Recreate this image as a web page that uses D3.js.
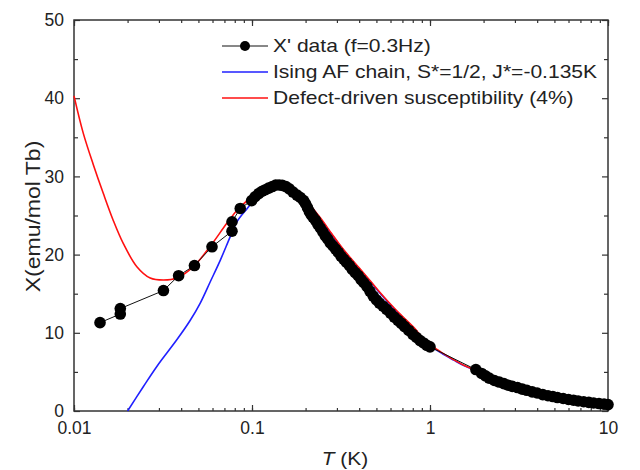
<!DOCTYPE html>
<html>
<head>
<meta charset="utf-8">
<script src="https://cdn.jsdelivr.net/npm/d3@7"></script>
<style>
  body { margin: 0; background: #fff; }
  text { font-family: "Liberation Sans", Arial, sans-serif; fill: #222; }
</style>
</head>
<body>
<div id="chart"></div>
<script>
// measured data, chi' at f = 0.3 Hz
var dataT = [0.0140, 0.0182, 0.0182, 0.0318, 0.0387, 0.0475, 0.0596, 0.0772, 0.0772, 0.0859,
             0.0995, 0.104, 0.109, 0.114, 0.119, 0.124, 0.130, 0.136, 0.142, 0.148,
             0.155, 0.162, 0.170, 0.179, 0.187, 0.195,
             0.200, 0.205, 0.210, 0.215, 0.220, 0.227, 0.234, 0.242, 0.250, 0.258,
             0.266, 0.275, 0.285, 0.295, 0.305, 0.316, 0.328, 0.340, 0.353, 0.366,
             0.380, 0.395, 0.410, 0.425, 0.443, 0.46, 0.48, 0.50, 0.52, 0.545,
             0.57, 0.60, 0.63, 0.66, 0.69, 0.72, 0.76, 0.80, 0.84, 0.88,
             0.92, 0.96, 1.0,
             1.81, 1.95, 2.05, 2.15, 2.3, 2.45, 2.6, 2.75, 2.9, 3.1,
             3.3, 3.5, 3.75, 4.0, 4.3, 4.6, 4.9, 5.2, 5.6, 6.0,
             6.4, 6.8, 7.3, 7.8, 8.3, 8.9, 9.5, 10.0];
var dataChi = [11.3, 12.4, 13.1, 15.4, 17.3, 18.6, 21.0, 23.0, 24.2, 25.9,
               26.9, 27.4, 27.8, 28.1, 28.3, 28.5, 28.7, 28.9, 28.9, 28.85,
               28.7, 28.4, 28.0, 27.6, 27.3, 26.9,
               26.5, 26.0, 25.5, 25.1, 24.8, 24.4, 23.9, 23.4, 22.9, 22.4,
               22.0, 21.5, 21.1, 20.7, 20.3, 19.8, 19.4, 19.0, 18.6, 18.1,
               17.7, 17.3, 16.8, 16.4, 15.9, 15.3, 14.7, 14.2, 13.8, 13.4,
               13.0, 12.5, 12.0, 11.6, 11.2, 10.8, 10.3, 9.8, 9.4, 9.0,
               8.7, 8.4, 8.2,
               5.3, 4.8, 4.5, 4.2, 3.9, 3.7, 3.5, 3.3, 3.15, 3.0,
               2.8, 2.65, 2.45, 2.3, 2.1, 1.95, 1.85, 1.72, 1.6, 1.47,
               1.38, 1.28, 1.18, 1.1, 1.02, 0.95, 0.88, 0.82];

// Ising AF chain curve
var isingT = [0.020, 0.0245, 0.0292, 0.0378, 0.045, 0.0512, 0.0582, 0.0664, 0.0755, 0.0823,
              0.094, 0.103, 0.115, 0.128, 0.14, 0.155, 0.17, 0.19, 0.21, 0.242,
              0.28, 0.32, 0.36, 0.40, 0.464, 0.527, 0.627, 0.70, 0.81, 0.90,
              1.0, 1.16, 1.36, 1.55, 1.75];
var isingChi = [0, 3.1, 5.7, 9.1, 11.6, 13.8, 16.5, 19.3, 22.3, 24.2,
                25.9, 27.0, 28.1, 28.7, 28.95, 28.8, 28.3, 27.5, 26.4, 24.6,
                22.6, 20.8, 19.4, 18.2, 16.5, 15.0, 13.1, 12.0, 10.6, 9.4,
                8.4, 7.4, 6.5, 5.8, 5.3];

// defect-driven susceptibility curve
var defectT = [0.01, 0.01128, 0.01284, 0.01462, 0.0166, 0.01894, 0.02255, 0.0268, 0.0318, 0.0378,
               0.047, 0.058, 0.0722, 0.084, 0.094, 0.102, 0.115, 0.128, 0.14, 0.155,
               0.17, 0.19, 0.21, 0.242, 0.28, 0.32, 0.36, 0.40, 0.464, 0.527,
               0.627, 0.70, 0.81, 0.90, 1.0, 1.16, 1.36, 1.55, 1.75];
var defectChi = [40.3, 35.5, 31.5, 27.8, 24.4, 21.4, 18.45, 17.0, 16.75, 17.0,
                 18.5, 21.0, 24.0, 25.9, 26.9, 27.8, 28.4, 28.8, 29.0, 28.85,
                 28.35, 27.55, 26.45, 24.7, 22.7, 20.9, 19.5, 18.3, 16.6, 15.1,
                 13.2, 12.1, 10.7, 9.5, 8.5, 7.5, 6.55, 5.85, 5.35];

var xTickLabels = ["0.01", "0.1", "1", "10"];
var yTickLabels = [0, 10, 20, 30, 40, 50];
var legendLabels = ["X' data (f=0.3Hz)", "Ising AF chain, S*=1/2, J*=-0.135K", "Defect-driven susceptibility (4%)"];

var margin = {top: 20, right: 32, bottom: 59, left: 74},
    width = 640 - margin.left - margin.right,
    height = 470 - margin.top - margin.bottom;

var svg = d3.select("#chart").append("svg")
    .attr("width", 640)
    .attr("height", 470)
  .append("g")
    .attr("transform", "translate(" + margin.left + "," + margin.top + ")");

var x = d3.scaleLog().domain([0.01, 10]).range([0, width]);
var y = d3.scaleLinear().domain([0, 50]).range([height, 0]);

var pts = function(ts, vs) { return ts.map(function(t, i) { return [t, vs[i]]; }); };
var line = d3.line()
    .x(function(d) { return x(d[0]); })
    .y(function(d) { return y(d[1]); });
var smooth = d3.line()
    .x(function(d) { return x(d[0]); })
    .y(function(d) { return y(d[1]); })
    .curve(d3.curveCatmullRom.alpha(0.5));

// axes: ticks point inward on all four sides
var minorX = x.ticks();
var majorX = xTickLabels.map(Number);
var axisColor = "#333";

function styleAxis(g) {
  g.select(".domain").remove();
  g.selectAll("line").attr("stroke", axisColor).attr("stroke-width", 1.2);
  g.selectAll("text").style("font-size", "17.5px");
}

svg.append("g")
    .attr("transform", "translate(0," + height + ")")
    .call(d3.axisBottom(x).tickValues(minorX).tickSize(-3).tickFormat(""))
    .call(styleAxis);
svg.append("g")
    .attr("transform", "translate(0," + height + ")")
    .call(d3.axisBottom(x).tickValues(majorX).tickSize(-6).tickPadding(11)
      .tickFormat(function(d, i) { return xTickLabels[i]; }))
    .call(styleAxis);
svg.append("g")
    .call(d3.axisTop(x).tickValues(minorX).tickSize(-3).tickFormat(""))
    .call(styleAxis);
svg.append("g")
    .call(d3.axisTop(x).tickValues(majorX).tickSize(-6).tickFormat(""))
    .call(styleAxis);

svg.append("g")
    .call(d3.axisLeft(y).tickValues(d3.range(5, 50, 10)).tickSize(-4).tickFormat(""))
    .call(styleAxis);
svg.append("g")
    .call(d3.axisLeft(y).tickValues(yTickLabels).tickSize(-6).tickPadding(10))
    .call(styleAxis);
svg.append("g")
    .attr("transform", "translate(" + width + ",0)")
    .call(d3.axisRight(y).tickValues(d3.range(5, 50, 10)).tickSize(-4).tickFormat(""))
    .call(styleAxis);
svg.append("g")
    .attr("transform", "translate(" + width + ",0)")
    .call(d3.axisRight(y).tickValues(yTickLabels).tickSize(-6).tickFormat(""))
    .call(styleAxis);

svg.append("rect")
    .attr("width", width)
    .attr("height", height)
    .attr("fill", "none")
    .attr("stroke", axisColor)
    .attr("stroke-width", 1.5);

// axis titles
var xt = svg.append("text")
    .attr("transform", "translate(" + (width / 2 + 4) + "," + (height + 54) + ") scale(1.1,1)")
    .attr("text-anchor", "middle")
    .style("font-size", "19px");
xt.append("tspan").style("font-style", "italic").text("T");
xt.append("tspan").text(" (K)");

svg.append("text")
    .attr("transform", "translate(-34," + (height / 2 + 1) + ") rotate(-90) scale(1.18,1)")
    .attr("text-anchor", "middle")
    .style("font-size", "19.5px")
    .text("X(emu/mol Tb)");

// curves
svg.append("path")
    .datum(pts(isingT, isingChi))
    .attr("fill", "none")
    .attr("stroke", "#2020ff")
    .attr("stroke-width", 1.6)
    .attr("d", smooth);

svg.append("path")
    .datum(pts(defectT, defectChi))
    .attr("fill", "none")
    .attr("stroke", "#ff1010")
    .attr("stroke-width", 1.6)
    .attr("d", smooth);

// data
var data = pts(dataT, dataChi);
svg.append("path")
    .datum(data)
    .attr("fill", "none")
    .attr("stroke", "#111")
    .attr("stroke-width", 1)
    .attr("d", line);

svg.selectAll(".dot")
    .data(data)
    .enter().append("circle")
    .attr("class", "dot")
    .attr("cx", function(d) { return x(d[0]); })
    .attr("cy", function(d) { return y(d[1]); })
    .attr("r", 5.8)
    .attr("fill", "#000");

// legend
var legendColors = ["#111", "#2020ff", "#ff1010"];
var legend = svg.append("g").attr("transform", "translate(148,26)");
legendLabels.forEach(function(lab, i) {
  var row = legend.append("g").attr("transform", "translate(0," + (i * 26) + ")");
  row.append("line")
      .attr("x1", 0).attr("x2", 46)
      .attr("stroke", legendColors[i])
      .attr("stroke-width", i == 0 ? 1 : 1.6);
  if (i == 0) row.append("circle").attr("cx", 23).attr("r", 5).attr("fill", "#000");
  row.append("text")
      .attr("transform", "translate(51,0) scale(1.17,1)")
      .attr("dy", "0.35em")
      .style("font-size", "18px")
      .text(lab);
});
</script>
</body>
</html>
